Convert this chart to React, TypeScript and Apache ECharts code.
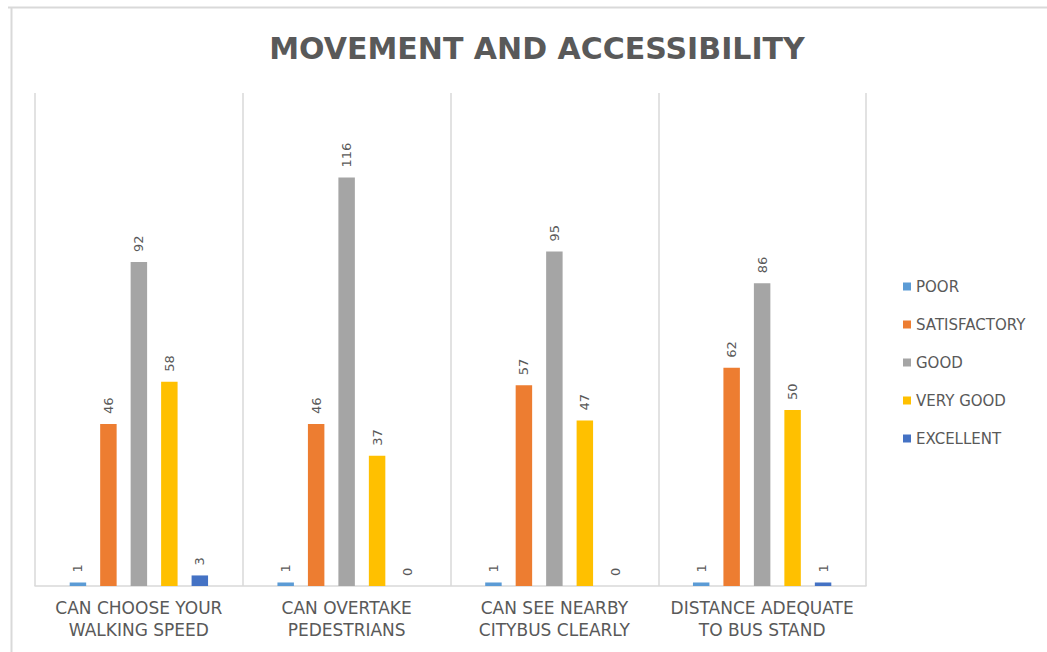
import React, { useEffect, useRef } from "react";
import * as echarts from "echarts";

const categories = [
  "CAN CHOOSE YOUR\nWALKING SPEED",
  "CAN OVERTAKE\nPEDESTRIANS",
  "CAN SEE NEARBY\nCITYBUS CLEARLY",
  "DISTANCE ADEQUATE\nTO BUS STAND",
];
const seriesNames = ["POOR", "SATISFACTORY", "GOOD", "VERY GOOD", "EXCELLENT"];
const poor = [1, 1, 1, 1];
const satisfactory = [46, 46, 57, 62];
const good = [92, 116, 95, 86];
const veryGood = [58, 37, 47, 50];
const excellent = [3, 0, 0, 1];
const colors = ["#5B9BD5", "#ED7D31", "#A5A5A5", "#FFC000", "#4472C4"];

const TEXT = "#595959";
const FONT = "DejaVu Sans";

export default function App() {
  const ref = useRef<HTMLDivElement>(null);
  useEffect(() => {
    if (!ref.current) return;
    const chart = echarts.init(ref.current, undefined, { renderer: "svg" });
    const values = [poor, satisfactory, good, veryGood, excellent];
    chart.setOption({
      animation: false,
      backgroundColor: "#ffffff",
      title: {
        text: "MOVEMENT AND ACCESSIBILITY",
        left: 532,
        textAlign: "center",
        top: 28,
        textStyle: {
          color: TEXT,
          fontFamily: FONT,
          fontWeight: "bold",
          fontSize: 30,
        },
      },
      legend: {
        orient: "vertical",
        left: 903,
        top: 279,
        padding: 0,
        itemWidth: 8,
        itemHeight: 8,
        itemGap: 23,
        icon: "rect",
        data: seriesNames,
        textStyle: { color: TEXT, fontSize: 15, fontFamily: FONT },
      },
      graphic: [
        { type: "line", shape: { x1: 8, y1: 7.5, x2: 1047, y2: 7.5 }, style: { stroke: "#d9d9d9", lineWidth: 2 } },
        { type: "line", shape: { x1: 11.5, y1: 7, x2: 11.5, y2: 652 }, style: { stroke: "#d9d9d9", lineWidth: 2 } },
      ],
      grid: { left: 35, right: 181, top: 93, bottom: 66, containLabel: false },
      xAxis: {
        type: "category",
        data: categories,
        axisTick: { show: false },
        axisLine: { lineStyle: { color: "#d9d9d9", width: 1.5 } },
        splitLine: { show: true, lineStyle: { color: "#d9d9d9", width: 1.5 } },
        axisLabel: {
          color: TEXT,
          fontSize: 17,
          fontFamily: FONT,
          lineHeight: 22,
          margin: 11,
          interval: 0,
        },
      },
      yAxis: {
        type: "value",
        min: 0,
        max: 140,
        show: false,
        splitLine: { show: false },
      },
      series: seriesNames.map((name, i) => ({
        name,
        type: "bar",
        data: values[i],
        barCategoryGap: "33.4%",
        barGap: "85%",
        itemStyle: { color: colors[i] },
        label: {
          show: true,
          position: "top",
          rotate: 90,
          align: "left",
          verticalAlign: "middle",
          distance: 10,
          color: TEXT,
          fontSize: 13,
          fontFamily: FONT,
        },
      })),
    });
    return () => chart.dispose();
  }, []);
  return (
    <div
      ref={ref}
      style={{ position: "fixed", left: 0, top: 0, width: 1047, height: 652 }}
    />
  );
}
